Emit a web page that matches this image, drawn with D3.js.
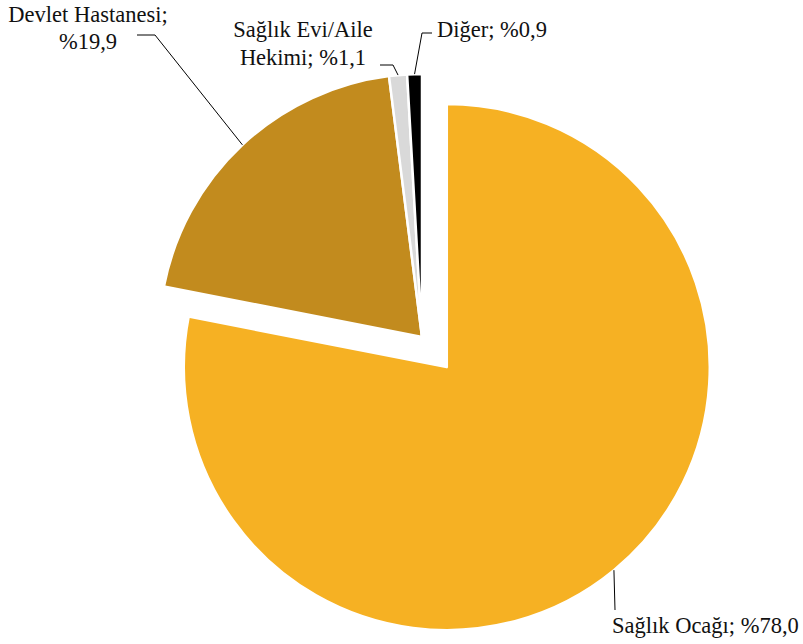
<!DOCTYPE html>
<html>

<head>
	<meta charset="utf-8">
	<style type="text/css">
		body {
			margin: 0;
			background-color: #ffffff;
		}
	</style>
	<title>Pie</title>
</head>

<body>
	<div id="chart"></div>
	<script src="https://cdn.jsdelivr.net/npm/d3@7"></script>
	<script>
		// data
		var categories = ["Sağlık Ocağı", "Devlet Hastanesi", "Sağlık Evi/Aile Hekimi", "Diğer"];
		var values = [78.0, 19.9, 1.1, 0.9];
		var labelLines = [
			["Sağlık Ocağı; %78,0"],
			["Devlet Hastanesi;", "%19,9"],
			["Sağlık Evi/Aile", "Hekimi; %1,1"],
			["Diğer; %0,9"]
		];
		var colors = ["#F6B123", "#C28B1E", "#D9D9D9", "#000000"];

		const width = 803,
			height = 644,
			cx = 422,
			cy = 337,
			radius = 263,
			explode = 39,
			fontFamily = "'Liberation Serif', 'Times New Roman', serif";

		// label layout: elbow points and text anchor for each slice
		var labelLayout = [
			{ elbow: [615, 610], end: null, tx: 612, ty: 633, anchor: "start", lh: 27 },
			{ elbow: [155, 35], end: [137, 35], tx: 88, ty: 22, anchor: "middle", lh: 26.5 },
			{ elbow: [393, 65], end: [380, 65], tx: 303, ty: 37, anchor: "middle", lh: 28 },
			{ elbow: [422, 33], end: [432, 33], tx: 437, ty: 37, anchor: "start", lh: 27 }
		];

		const svg = d3.select("#chart").append("svg")
			.attr("width", width)
			.attr("height", height);

		var pie = d3.pie().sort(null).value(function(d) {
			return d;
		});
		var arcs = pie(values);

		var arc = d3.arc().innerRadius(0).outerRadius(radius);

		// only the big slice is pulled out
		function offset(d, i) {
			if (i !== 0) return [0, 0];
			var a = (d.startAngle + d.endAngle) / 2;
			return [Math.sin(a) * explode, -Math.cos(a) * explode];
		}

		var g = svg.append("g").attr("transform", "translate(" + cx + "," + cy + ")");

		g.selectAll("path")
			.data(arcs)
			.enter()
			.append("path")
			.attr("d", arc)
			.attr("transform", function(d, i) {
				var o = offset(d, i);
				return "translate(" + o[0] + "," + o[1] + ")";
			})
			.style("fill", function(d, i) {
				return colors[i];
			})
			.style("stroke", "#ffffff")
			.style("stroke-width", 2.5)
			.style("stroke-linejoin", "round");

		// leader lines from the outer edge midpoint of each slice
		arcs.forEach(function(d, i) {
			var a = (d.startAngle + d.endAngle) / 2;
			var o = offset(d, i);
			var px = cx + o[0] + Math.sin(a) * radius,
				py = cy + o[1] - Math.cos(a) * radius;
			var lay = labelLayout[i];
			var pts = [[px, py], lay.elbow];
			if (lay.end) pts.push(lay.end);
			svg.append("path")
				.attr("d", d3.line()(pts))
				.style("fill", "none")
				.style("stroke", "#000000")
				.style("stroke-width", 1);

			var text = svg.append("text")
				.attr("text-anchor", lay.anchor)
				.attr("x", lay.tx)
				.attr("y", lay.ty)
				.style("font-family", fontFamily)
				.style("font-size", "22.5px")
				.style("fill", "#111111");
			labelLines[i].forEach(function(line, j) {
				text.append("tspan")
					.attr("x", lay.tx)
					.attr("y", lay.ty + j * lay.lh)
					.text(line);
			});
		});
	</script>
</body>

</html>
